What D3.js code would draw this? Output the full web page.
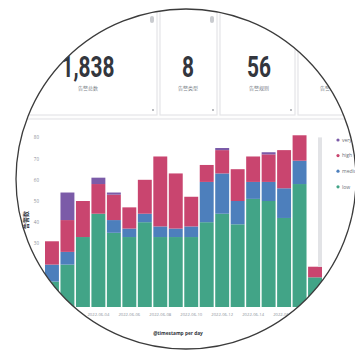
<!DOCTYPE html>
<html>
<head>
<meta charset="utf-8">
<script src="https://cdn.jsdelivr.net/npm/d3@7"></script>
<style>
    body { margin: 0; background: #fff; }
    svg { display: block; }
    .axis text { fill: #8a8f98; font-family: "Open Sans", sans-serif; }
</style>
</head>
<body>
<script>

    var days = ["2022-06-01", "2022-06-02", "2022-06-03", "2022-06-04", "2022-06-05", "2022-06-06",
        "2022-06-07", "2022-06-08", "2022-06-09", "2022-06-10", "2022-06-11", "2022-06-12",
        "2022-06-13", "2022-06-14", "2022-06-15", "2022-06-16", "2022-06-17", "2022-06-18"];
    var low = [12, 20, 33, 44, 35, 33, 40, 33, 33, 33, 40, 44, 39, 51, 50, 42, 58, 14];
    var medium = [8, 6, 0, 0, 6, 4, 4, 5, 4, 5, 19, 19, 11, 8, 9, 14, 11, 0];
    var high = [11, 15, 17, 14, 12, 10, 16, 33, 26, 14, 8, 11, 15, 12, 13, 18, 12, 5];
    var veryHigh = [0, 13, 0, 3, 1, 0, 0, 0, 0, 0, 0, 1, 0, 0, 1, 0, 0, 0];

    var levels = ["low", "medium", "high", "very high"];
    var legendOrder = ["very high", "high", "medium", "low"];
    var yTicks = [0, 10, 20, 30, 40, 50, 60, 70, 80];
    var xTickDays = ["2022-06-02", "2022-06-04", "2022-06-06", "2022-06-08", "2022-06-10",
        "2022-06-12", "2022-06-14", "2022-06-16"];

    var metricValues = ["1,838", "8", "56", ""];
    var metricLabels = ["告警总数", "告警类型", "告警规则", "告警来源"];

    // card boxes (layout only)
    var cards = [
        { x0: -5, x1: 157, cx: 88 },
        { x0: 160, x1: 217, cx: 188 },
        { x0: 220, x1: 295, cx: 259 },
        { x0: 298, x1: 380, cx: 330 }
    ];

    var W = 355, H = 351;
    var circle = { cx: 186, cy: 179, r: 170 };

    var colorScale = d3.scaleOrdinal()
        .domain(levels)
        .range(["#42a487", "#4d7fbc", "#c9456f", "#7b5ba8"]);

    var table = days.map(function (d, i) {
        return { day: d, "low": low[i], "medium": medium[i], "high": high[i], "very high": veryHigh[i] };
    });
    var series = d3.stack().keys(levels)(table);

    var x = d3.scaleBand()
        .domain(days)
        .range([45, 322])
        .paddingInner(0.1)
        .paddingOuter(0);

    var y = d3.scaleLinear()
        .domain([0, 90])
        .range([307, 116.2]);

    var svg = d3.select("body").append("svg")
        .attr("width", W)
        .attr("height", H);

    svg.append("defs").append("clipPath")
        .attr("id", "lens")
        .append("circle")
        .attr("cx", circle.cx)
        .attr("cy", circle.cy)
        .attr("r", circle.r);

    var g = svg.append("g").attr("clip-path", "url(#lens)");

    g.append("rect")
        .attr("width", W)
        .attr("height", H)
        .attr("fill", "#fdfdfd");

    // metric cards
    var card = g.selectAll(".card")
        .data(cards)
        .enter().append("g")
        .attr("class", "card");

    card.append("rect")
        .attr("x", function (d) { return d.x0; })
        .attr("y", -5)
        .attr("width", function (d) { return d.x1 - d.x0; })
        .attr("height", 120)
        .attr("fill", "#fff")
        .attr("stroke", "#e4e5e8")
        .attr("stroke-width", 1.2);

    card.append("rect")
        .attr("x", function (d) { return d.x1 - 7; })
        .attr("y", 16)
        .attr("width", 4)
        .attr("height", 7)
        .attr("rx", 2)
        .attr("fill", "#c9cbcf");

    card.append("circle")
        .attr("cx", function (d) { return d.x1 - 4; })
        .attr("cy", 110)
        .attr("r", 0.9)
        .attr("fill", "#9a9da3");

    // condensed look: squeeze the bold digits horizontally
    card.append("text")
        .attr("transform", function (d) { return "translate(" + d.cx + ",77) scale(0.72,1)"; })
        .attr("text-anchor", "middle")
        .style("font-family", "Roboto, sans-serif")
        .style("font-weight", "bold")
        .style("font-size", "29px")
        .attr("fill", "#33363d")
        .text(function (d, i) { return metricValues[i]; });

    card.append("text")
        .attr("x", function (d) { return d.cx; })
        .attr("y", 90)
        .attr("text-anchor", "middle")
        .style("font-family", "'Noto Sans CJK SC', sans-serif")
        .style("font-size", "5px")
        .attr("fill", "#7a7f88")
        .text(function (d, i) { return metricLabels[i]; });

    // chart panel
    g.append("rect")
        .attr("x", -5)
        .attr("y", 119)
        .attr("width", W + 10)
        .attr("height", 240)
        .attr("fill", "#fff")
        .attr("stroke", "#e4e5e8")
        .attr("stroke-width", 1.2);

    g.append("g")
        .selectAll("g")
        .data(series)
        .enter().append("g")
        .attr("fill", function (d) { return colorScale(d.key); })
        .selectAll("rect")
        .data(function (d) { return d; })
        .enter().append("rect")
        .attr("x", function (d) { return x(d.data.day); })
        .attr("y", function (d) { return y(d[1]); })
        .attr("width", x.bandwidth())
        .attr("height", function (d) { return y(d[0]) - y(d[1]); });

    // grey strip over the partial last bucket
    var last = days[days.length - 1];
    g.append("rect")
        .attr("x", x(last) + x.bandwidth() - 4)
        .attr("y", y(80))
        .attr("width", 4)
        .attr("height", y(low[low.length - 1] + high[high.length - 1]) - y(80))
        .attr("fill", "#e2e3e6");

    var yAxis = d3.axisLeft(y).tickValues(yTicks).tickSize(0).tickPadding(3);
    var xAxis = d3.axisBottom(x).tickValues(xTickDays).tickSize(0).tickPadding(6)
        .tickFormat(function (d) { return d; });

    g.append("g")
        .attr("class", "y axis")
        .attr("transform", "translate(42,0)")
        .call(yAxis)
        .call(function (s) { s.select(".domain").remove(); })
        .selectAll("text")
        .style("font-size", "4.5px");

    g.append("g")
        .attr("class", "x axis")
        .attr("transform", "translate(0,307)")
        .call(xAxis)
        .call(function (s) { s.select(".domain").remove(); })
        .selectAll("text")
        .style("font-size", "4.2px");

    g.append("text")
        .attr("transform", "translate(28,220) rotate(-90)")
        .attr("text-anchor", "middle")
        .style("font-family", "'Noto Sans CJK SC', sans-serif")
        .style("font-weight", "bold")
        .style("font-size", "6px")
        .attr("fill", "#33363d")
        .text("告警数");

    g.append("text")
        .attr("x", 178)
        .attr("y", 335)
        .attr("text-anchor", "middle")
        .style("font-family", "'Open Sans', sans-serif")
        .style("font-weight", "bold")
        .style("font-size", "4.8px")
        .attr("fill", "#33363d")
        .text("@timestamp per day");

    // legend
    var legend = g.selectAll(".legend")
        .data(legendOrder)
        .enter().append("g")
        .attr("class", "legend")
        .attr("transform", function (d, i) { return "translate(338," + (140 + i * 15.6) + ")"; });

    legend.append("circle")
        .attr("r", 1.6)
        .attr("fill", function (d) { return colorScale(d); });

    legend.append("text")
        .attr("x", 4)
        .attr("dy", "0.35em")
        .style("font-family", "'Open Sans', sans-serif")
        .style("font-size", "5px")
        .attr("fill", "#6a6f78")
        .text(function (d) { return d; });

    svg.append("circle")
        .attr("cx", circle.cx)
        .attr("cy", circle.cy)
        .attr("r", circle.r)
        .attr("fill", "none")
        .attr("stroke", "#3b3b3b")
        .attr("stroke-width", 1.3);

</script>
</body>
</html>
